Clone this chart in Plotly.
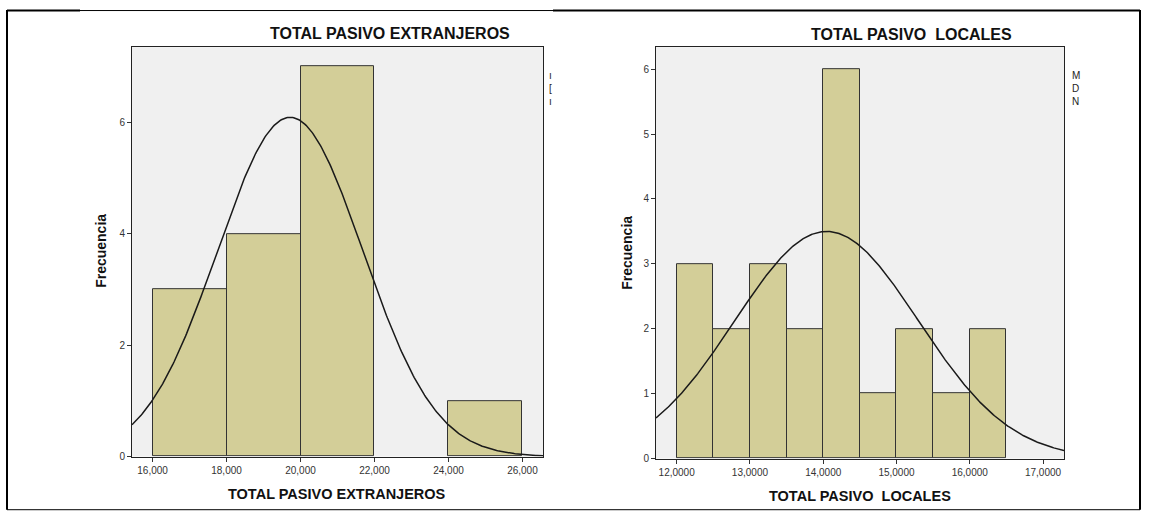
import numpy as np
import plotly.graph_objects as go

W, H = 1152, 513
HE = 505.3  # effective vertical pixel scale observed in the render

# ---- data ----
ext_bin_left = [16000, 18000, 20000, 24000]
ext_bin_width = [2000, 2000, 2000, 2000]
ext_counts = [3, 4, 7, 1]
ext_n, ext_mean, ext_sd = 15, 19720, 1965
ext_xticks = [16000, 18000, 20000, 22000, 24000, 26000]
ext_xticktext = ["16,000", "18,000", "20,000", "22,000", "24,000", "26,000"]
ext_yticks = [0, 2, 4, 6]

loc_bin_left = [12.0, 12.5, 13.0, 13.5, 14.0, 14.5, 15.0, 15.5, 16.0]
loc_bin_width = [0.5] * 9
loc_counts = [3, 2, 3, 2, 6, 1, 2, 1, 2]
loc_n, loc_mean, loc_sd = 22, 14.046, 1.254
loc_xticks = [12, 13, 14, 15, 16, 17]
loc_xticktext = ["12,0000", "13,0000", "14,0000", "15,0000", "16,0000", "17,0000"]
loc_yticks = [0, 1, 2, 3, 4, 5, 6]

ext_xrange = [15444, 26556]
ext_yrange = [0, 7.35]
loc_xrange = [11.718, 17.286]
loc_yrange = [0, 6.34]

BAR = "#D3CE98"
BG = "#F0F0F0"
FONT = "Arial, Liberation Sans, sans-serif"

def px_x(p):
    return p / W

def px_y(p):
    return 1 - p / HE

fig = go.Figure()

def add_panel(lefts, widths, counts, n, mean, sd, xrange, xa, ya):
    centers = [l + w / 2 for l, w in zip(lefts, widths)]
    fig.add_trace(go.Bar(
        x=centers, y=counts, width=widths,
        marker=dict(color=BAR, line=dict(color="#333333", width=1)),
        xaxis=xa, yaxis=ya, showlegend=False, hoverinfo="skip"))
    xs = np.linspace(xrange[0], xrange[1], 400)
    w = widths[0]
    ys = n * w / (sd * np.sqrt(2 * np.pi)) * np.exp(-0.5 * ((xs - mean) / sd) ** 2)
    fig.add_trace(go.Scatter(
        x=xs, y=ys, mode="lines", line=dict(color="#1a1a1a", width=1.5),
        xaxis=xa, yaxis=ya, showlegend=False, hoverinfo="skip"))

add_panel(ext_bin_left, ext_bin_width, ext_counts, ext_n, ext_mean, ext_sd, ext_xrange, "x", "y")
add_panel(loc_bin_left, loc_bin_width, loc_counts, loc_n, loc_mean, loc_sd, loc_xrange, "x2", "y2")

axcommon = dict(showgrid=False, zeroline=False, ticks="outside", ticklen=4, tickcolor="#333",
                showline=True, linecolor="#222", linewidth=1, mirror=True,
                tickfont=dict(family=FONT, size=10, color="#333"))

fig.update_layout(
    width=W, height=H,
    margin=dict(l=0, r=0, t=0, b=0),
    paper_bgcolor="white",
    plot_bgcolor=BG,
    bargap=0,
    xaxis=dict(domain=[px_x(132), px_x(543)], range=ext_xrange, anchor="y",
               tickvals=ext_xticks, ticktext=ext_xticktext, **axcommon),
    yaxis=dict(domain=[px_y(455), px_y(47)], range=ext_yrange, anchor="x",
               tickvals=ext_yticks, **axcommon),
    xaxis2=dict(domain=[px_x(656), px_x(1064)], range=loc_xrange, anchor="y2",
                tickvals=loc_xticks, ticktext=loc_xticktext, **axcommon),
    yaxis2=dict(domain=[px_y(457), px_y(47)], range=loc_yrange, anchor="x2",
                tickvals=loc_yticks, **axcommon),
)

def label(text, x, y, size, angle=0, bold=True, anchor="center"):
    t = f"<b>{text}</b>" if bold else text
    fig.add_annotation(text=t, x=px_x(x), y=px_y(y), xref="paper", yref="paper",
                       showarrow=False, xanchor=anchor, yanchor="middle", textangle=angle,
                       font=dict(family=FONT, size=size, color="#111"))

# titles
label("TOTAL PASIVO EXTRANJEROS", 390, 33, 16)
label("TOTAL PASIVO\u00a0 LOCALES", 911, 34, 16)
# axis titles
label("TOTAL PASIVO EXTRANJEROS", 337, 492, 14.5)
label("TOTAL PASIVO\u00a0 LOCALES", 860, 494, 14.5)
label("Frecuencia", 101, 250, 14, angle=-90)
label("Frecuencia", 627, 252, 14, angle=-90)

# clipped legend fragments
fig.add_annotation(text="M<br>D<br>N", x=px_x(1070), y=px_y(68), xref="paper", yref="paper",
                   xanchor="left", yanchor="top", showarrow=False, align="left",
                   font=dict(family=FONT, size=10, color="#222"))
fig.add_annotation(text="ı<br>[<br>ı", x=px_x(547), y=px_y(68), xref="paper", yref="paper",
                   xanchor="left", yanchor="top", showarrow=False, align="left",
                   font=dict(family=FONT, size=10, color="#222"))

# outer frame
shapes = [
    dict(type="line", xref="paper", yref="paper", x0=px_x(7), x1=px_x(7), y0=px_y(508), y1=px_y(10), line=dict(color="black", width=2)),
    dict(type="line", xref="paper", yref="paper", x0=px_x(7), x1=px_x(80), y0=px_y(10.5), y1=px_y(10.5), line=dict(color="black", width=2)),
    dict(type="line", xref="paper", yref="paper", x0=px_x(80), x1=px_x(553), y0=px_y(10.5), y1=px_y(10.5), line=dict(color="black", width=1)),
    dict(type="line", xref="paper", yref="paper", x0=px_x(553), x1=px_x(1140), y0=px_y(10.5), y1=px_y(10.5), line=dict(color="black", width=2)),
    dict(type="line", xref="paper", yref="paper", x0=px_x(1140), x1=px_x(1140), y0=px_y(508), y1=px_y(10), line=dict(color="black", width=2)),
    dict(type="line", xref="paper", yref="paper", x0=px_x(7), x1=px_x(1140), y0=px_y(508), y1=px_y(508), line=dict(color="black", width=1)),
]
fig.update_layout(shapes=shapes)

fig.write_html("out.html")
